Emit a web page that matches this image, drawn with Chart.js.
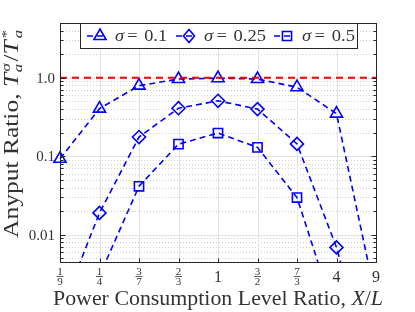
<!DOCTYPE html>
<html>
<head>
<meta charset="utf-8">
<script src="https://cdn.jsdelivr.net/npm/chart.js@4.4.0/dist/chart.umd.min.js"></script>
<style>
  html, body { margin: 0; padding: 0; background: #fff; }
  #wrap { width: 415px; height: 312px; }
</style>
</head>
<body>
<div id="wrap"><canvas id="chart" width="415" height="312"></canvas></div>
<script>
// x categories (X/L), shown as fractions
let xLabels = ['1/9', '1/4', '3/7', '2/3', '1', '3/2', '7/3', '4', '9'];

// anyput ratio per sigma
let sigma01 = [0.093, 0.405, 0.795, 0.965, 0.99, 0.965, 0.76, 0.35, 0.0015];
let sigma025 = [0.001, 0.019, 0.176, 0.41, 0.51, 0.40, 0.144, 0.0069, 0.0001];
let sigma05 = [0.0001, 0.003, 0.0415, 0.143, 0.198, 0.13, 0.0298, 0.00083, 0.0001];
let refLine = [1, 1, 1, 1, 1, 1, 1, 1, 1];

let seriesNames = ['0.1', '0.25', '0.5'];
let yTickValues = [0.01, 0.1, 1];
let yTickLabels = ['0.01', '0.1', '1.0'];

let yMin = 0.0045;
let yMax = 5;

const serif = '"Liberation Serif", "DejaVu Serif", serif';
const ink = '#333333';
const blue = '#0000ff';

function gridValues() {
  let vals = [];
  for (let e = -3; e <= 0; e++) {
    for (let m = 1; m <= 9; m++) {
      let v = m * Math.pow(10, e);
      if (v >= yMin && v <= yMax) vals.push({ v: v, major: m == 1 });
    }
  }
  return vals;
}

function drawMarker(ctx, style, x, y, r) {
  ctx.beginPath();
  if (style == 'triangle') {
    ctx.moveTo(x, y - r);
    ctx.lineTo(x + r * 0.866, y + r * 0.5);
    ctx.lineTo(x - r * 0.866, y + r * 0.5);
    ctx.closePath();
  } else if (style == 'rectRot') {
    ctx.moveTo(x, y - r);
    ctx.lineTo(x + r * 0.85, y);
    ctx.lineTo(x, y + r);
    ctx.lineTo(x - r * 0.85, y);
    ctx.closePath();
  } else {
    let s = r * 0.7;
    ctx.rect(x - s, y - s, 2 * s, 2 * s);
  }
  ctx.stroke();
}

// draws a run of [text, fontPrefix, size, dy, extra] pieces stretched to a given length
function drawRun(ctx, pieces, x0, y0, length) {
  let total = 0;
  pieces.forEach(p => {
    ctx.font = p[1] + p[2] + 'px ' + serif;
    total += ctx.measureText(p[0]).width + (p[4] || 0);
  });
  let k = length / total;
  ctx.save();
  ctx.translate(x0, y0);
  ctx.scale(k, 1);
  let x = 0;
  pieces.forEach(p => {
    ctx.font = p[1] + p[2] + 'px ' + serif;
    ctx.fillText(p[0], x, p[3]);
    x += ctx.measureText(p[0]).width + (p[4] || 0);
  });
  ctx.restore();
}

const decor = {
  id: 'decor',
  beforeDatasetsDraw(chart) {
    let ctx = chart.ctx;
    let a = chart.chartArea;
    let ys = chart.scales.y;
    let xs = chart.scales.x;
    ctx.save();
    ctx.lineWidth = 1;
    gridValues().forEach(g => {
      let py = Math.round(ys.getPixelForValue(g.v)) + 0.5;
      ctx.beginPath();
      if (g.major) {
        ctx.strokeStyle = '#e3e3e3';
        ctx.setLineDash([]);
      } else {
        ctx.strokeStyle = '#cfcfcf';
        ctx.setLineDash([1, 2]);
      }
      ctx.moveTo(a.left, py);
      ctx.lineTo(a.right, py);
      ctx.stroke();
    });
    ctx.setLineDash([]);
    ctx.strokeStyle = '#e3e3e3';
    xLabels.forEach((l, i) => {
      let px = Math.round(xs.getPixelForValue(i)) + 0.5;
      ctx.beginPath();
      ctx.moveTo(px, a.top);
      ctx.lineTo(px, a.bottom);
      ctx.stroke();
    });
    ctx.restore();
  },
  afterDraw(chart) {
    let ctx = chart.ctx;
    let a = chart.chartArea;
    let ys = chart.scales.y;
    let xs = chart.scales.x;
    ctx.save();

    // frame and inner ticks
    ctx.strokeStyle = '#262626';
    ctx.lineWidth = 1;
    ctx.setLineDash([]);
    let L = Math.round(a.left) + 0.5, R = Math.round(a.right) + 0.5;
    let T = Math.round(a.top) + 0.5, B = Math.round(a.bottom) + 0.5;
    ctx.strokeRect(L, T, R - L, B - T);
    ctx.beginPath();
    gridValues().forEach(g => {
      let py = Math.round(ys.getPixelForValue(g.v)) + 0.5;
      let len = g.major ? 5 : 3;
      ctx.moveTo(L, py); ctx.lineTo(L + len, py);
      ctx.moveTo(R, py); ctx.lineTo(R - len, py);
    });
    xLabels.forEach((l, i) => {
      let px = Math.round(xs.getPixelForValue(i)) + 0.5;
      ctx.moveTo(px, B); ctx.lineTo(px, B - 4);
      ctx.moveTo(px, T); ctx.lineTo(px, T + 4);
    });
    ctx.stroke();

    // y tick labels
    ctx.fillStyle = ink;
    ctx.font = '15px ' + serif;
    ctx.textAlign = 'right';
    ctx.textBaseline = 'middle';
    yTickValues.forEach((v, i) => {
      ctx.fillText(yTickLabels[i], a.left - 5, ys.getPixelForValue(v) + 1);
    });

    // x tick labels (fractions)
    ctx.textAlign = 'center';
    ctx.strokeStyle = ink;
    xLabels.forEach((l, i) => {
      let px = xs.getPixelForValue(i);
      let parts = l.split('/');
      ctx.textBaseline = 'alphabetic';
      if (parts.length == 2) {
        ctx.font = '11px ' + serif;
        ctx.fillText(parts[0], px, a.bottom + 12.5);
        ctx.fillText(parts[1], px, a.bottom + 23);
        ctx.beginPath();
        ctx.lineWidth = 0.8;
        ctx.moveTo(px - 3.5, a.bottom + 14.5);
        ctx.lineTo(px + 3.5, a.bottom + 14.5);
        ctx.stroke();
      } else {
        ctx.font = '16px ' + serif;
        ctx.fillText(l, px, a.bottom + 20);
      }
    });

    // x title
    ctx.textAlign = 'left';
    drawRun(ctx, [
      ['Power Consumption Level Ratio, ', '', 20, 0],
      ['X', 'italic ', 20, 0],
      ['/', '', 20, 0],
      ['L', 'italic ', 20, 0]
    ], 53, 305, 330);

    // y title, rotated
    ctx.save();
    ctx.translate(18, 238);
    ctx.rotate(-Math.PI / 2);
    ctx.textBaseline = 'alphabetic';
    drawRun(ctx, [
      ['Anyput Ratio, ', '', 20, 0],
      ['T', 'italic ', 20, 0, 1],
      ['σ', 'italic ', 13, -8, -7],
      ['a', 'italic ', 13, 4, 2],
      ['/', '', 20, 0],
      ['T', 'italic ', 20, 0, 1],
      ['*', 'italic ', 13, -8, -6],
      ['a', 'italic ', 13, 4, 0]
    ], 0, 0, 208);
    ctx.restore();

    // legend box
    let lx = 80, ly = a.top, lw = 277, lh = 25;
    ctx.fillStyle = '#ffffff';
    ctx.fillRect(lx, ly, lw, lh);
    ctx.strokeStyle = '#262626';
    ctx.lineWidth = 1;
    ctx.strokeRect(lx + 0.5, ly + 0.5, lw, lh);
    let styles = ['triangle', 'rectRot', 'rect'];
    let radii = [7, 6.5, 6.5];
    let starts = [87, 176, 274];
    let widths = [52, 62, 53];
    let my = ly + 13;
    styles.forEach((s, i) => {
      let sx = starts[i];
      ctx.strokeStyle = blue;
      ctx.lineWidth = 1.6;
      ctx.setLineDash([6, 4]);
      ctx.beginPath();
      ctx.moveTo(sx, my);
      ctx.lineTo(sx + 20, my);
      ctx.stroke();
      ctx.setLineDash([]);
      drawMarker(ctx, s, sx + 13, my, radii[i]);
      ctx.fillStyle = ink;
      ctx.textBaseline = 'middle';
      drawRun(ctx, [
        ['σ', 'italic ', 17, 1, 3],
        ['= ', '', 17, 1, 2],
        [seriesNames[i], '', 17, 1]
      ], sx + 28, my, widths[i]);
    });

    ctx.restore();
  }
};

function lineSet(label, data, style, radius) {
  return {
    label: label,
    data: data,
    borderColor: blue,
    borderWidth: 1.6,
    borderDash: [6, 4],
    pointStyle: style,
    pointRadius: radius,
    pointBorderWidth: 1.6,
    pointBorderColor: blue,
    pointBackgroundColor: 'rgba(0,0,0,0)',
    fill: false,
    tension: 0,
    clip: { left: 10, right: 10, top: 10, bottom: 0 }
  };
}

let ctx = document.getElementById('chart').getContext('2d');
let chart = new Chart(ctx, {
  type: 'line',
  data: {
    labels: xLabels,
    datasets: [
      {
        label: 'ref',
        data: refLine,
        borderColor: '#ff0000',
        borderWidth: 2,
        borderDash: [7, 5],
        pointRadius: 0,
        fill: false,
        clip: 0
      },
      lineSet('σ = 0.1', sigma01, 'triangle', 7),
      lineSet('σ = 0.25', sigma025, 'rectRot', 6.5),
      lineSet('σ = 0.5', sigma05, 'rect', 6.5)
    ]
  },
  options: {
    responsive: false,
    animation: false,
    devicePixelRatio: 1,
    layout: { padding: { left: 60, right: 39, top: 23, bottom: 50 } },
    plugins: { legend: { display: false }, tooltip: { enabled: false } },
    scales: {
      x: {
        type: 'category',
        offset: false,
        grid: { display: false },
        border: { display: false },
        ticks: { display: false },
        afterFit: s => { s.height = 0; }
      },
      y: {
        type: 'logarithmic',
        min: yMin,
        max: yMax,
        grid: { display: false },
        border: { display: false },
        ticks: { display: false },
        afterFit: s => { s.width = 0; }
      }
    }
  },
  plugins: [decor]
});
</script>
</body>
</html>
